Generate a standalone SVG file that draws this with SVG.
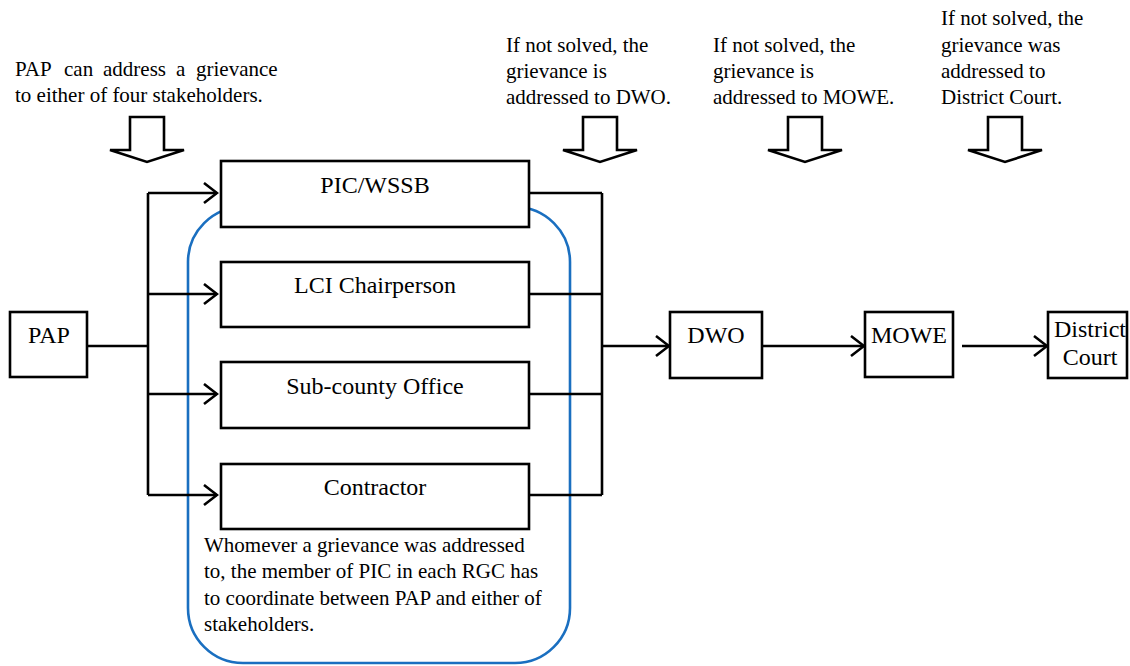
<svg xmlns="http://www.w3.org/2000/svg" width="1130" height="666" viewBox="0 0 1130 666" font-family="'Liberation Serif', 'Times New Roman', Times, serif">
<style>
text{font-family:'Liberation Serif','Times New Roman',Times,serif;fill:#000}
.t{font-size:21px}
.lbl{font-size:24px;text-anchor:middle}
.box{fill:#fff;stroke:#000;stroke-width:2.6}
.ln{fill:none;stroke:#000;stroke-width:2.6}
.blk{fill:#fff;stroke:#000;stroke-width:2.6;stroke-linejoin:miter}
</style>
<defs>
<marker id="ah" markerWidth="16" markerHeight="24" refX="14" refY="11" orient="auto" markerUnits="userSpaceOnUse">
<path d="M1,1 L14,11 L1,21" fill="none" stroke="#000" stroke-width="2.6"/>
</marker>
<path id="barrow" d="M-17,0 L17,0 L17,33 L37,33 L0,45 L-37,33 L-17,33 Z"/>
</defs>
<g id="rgc">
<rect x="188" y="207" width="382" height="456" rx="55" ry="55" fill="none" stroke="#1a6fc0" stroke-width="2.6"/>
</g>
<g id="notes">
<text class="t" y="76"><tspan x="15">PAP</tspan><tspan x="64">can</tspan><tspan x="103">address</tspan><tspan x="176">a</tspan><tspan x="196">grievance</tspan></text>
<text class="t" x="15" y="102">to either of four stakeholders.</text>
<text class="t" x="506" y="52">If not solved, the</text>
<text class="t" x="506" y="78">grievance is</text>
<text class="t" x="506" y="104">addressed to DWO.</text>
<text class="t" x="713" y="52">If not solved, the</text>
<text class="t" x="713" y="78">grievance is</text>
<text class="t" x="713" y="104">addressed to MOWE.</text>
<text class="t" x="941" y="25">If not solved, the</text>
<text class="t" x="941" y="52">grievance was</text>
<text class="t" x="941" y="78">addressed to</text>
<text class="t" x="941" y="104">District Court.</text>
<text class="t" x="204" y="552">Whomever a grievance was addressed</text>
<text class="t" x="204" y="578">to, the member of PIC in each RGC has</text>
<text class="t" x="204" y="605">to coordinate between PAP and either of</text>
<text class="t" x="204" y="631">stakeholders.</text>
</g>
<g id="block-arrows">
<use href="#barrow" class="blk" transform="translate(147,117)"/>
<use href="#barrow" class="blk" transform="translate(600,117)"/>
<use href="#barrow" class="blk" transform="translate(805,117)"/>
<use href="#barrow" class="blk" transform="translate(1005,117)"/>
</g>
<g id="connectors">
<path class="ln" d="M87,346 H148 M148,193 V495"/>
<path class="ln" d="M148,193 H217" marker-end="url(#ah)"/>
<path class="ln" d="M148,294 H217" marker-end="url(#ah)"/>
<path class="ln" d="M148,394 H217" marker-end="url(#ah)"/>
<path class="ln" d="M148,495 H217" marker-end="url(#ah)"/>
<path class="ln" d="M529,193 H602 M529,294 H602 M529,394 H602 M529,495 H602 M602,193 V495"/>
<path class="ln" d="M602,346 H669" marker-end="url(#ah)"/>
<path class="ln" d="M762,346 H864" marker-end="url(#ah)"/>
<path class="ln" d="M962,346 H1047" marker-end="url(#ah)"/>
</g>
<g id="pap"><rect class="box" x="10" y="312" width="77" height="65"/><text class="lbl" x="49" y="343">PAP</text></g>
<g id="pic"><rect class="box" x="221" y="161" width="308" height="66"/><text class="lbl" x="375" y="193">PIC/WSSB</text></g>
<g id="lci"><rect class="box" x="221" y="262" width="308" height="65"/><text class="lbl" x="375" y="293">LCI Chairperson</text></g>
<g id="subcounty"><rect class="box" x="221" y="362" width="308" height="66"/><text class="lbl" x="375" y="394">Sub-county Office</text></g>
<g id="contractor"><rect class="box" x="221" y="464" width="308" height="65"/><text class="lbl" x="375" y="495">Contractor</text></g>
<g id="dwo"><rect class="box" x="670" y="312" width="92" height="66"/><text class="lbl" x="716" y="343">DWO</text></g>
<g id="mowe"><rect class="box" x="865" y="312" width="88" height="65"/><text class="lbl" x="909" y="343">MOWE</text></g>
<g id="court"><rect class="box" x="1048" y="312" width="79" height="66"/><text class="lbl" x="1090" y="337">District</text><text class="lbl" x="1090" y="365">Court</text></g>
</svg>
